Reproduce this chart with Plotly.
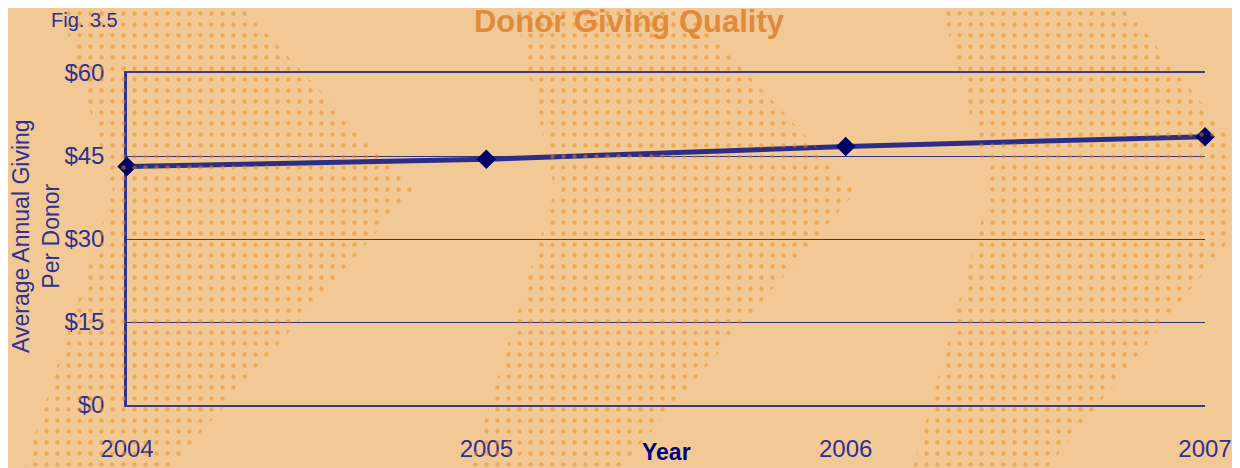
import plotly.graph_objects as go

# ---------------------------------------------------------------
# data
# ---------------------------------------------------------------
years = [2004, 2005, 2006, 2007]
avg_giving = [43.1, 44.4, 46.7, 48.5]

y_ticks = [0, 15, 30, 45, 60]
y_tick_labels = ["$0", "$15", "$30", "$45", "$60"]
x_tick_labels = ["2004", "2005", "2006", "2007"]

# ---------------------------------------------------------------
# style
# ---------------------------------------------------------------
# the page body has an 8px margin, so the figure is drawn 8px smaller
# and every pixel position below is shifted by OFF
OFF = 8
W, H = 1240 - OFF, 468 - OFF
BG = "#F2C994"
DOT = "#E8891A"
NAVY = "#2E3192"
LINE = "#2B2D86"
MARK = "#000066"
TITLE_C = "#E08B3C"
FONT = "Liberation Sans, Arial, sans-serif"


def px(x):
    return (x - OFF) / W


def py(y):
    return 1 - (y - OFF) / H


# plot area in reference pixels (left, right, top, bottom)
PL, PR, PT, PB = 127, 1205, 73, 405

# decorative dotted chevron bands (reference pixels)
bands = [
    ([58, 113, 25], [235, 413, 170]),
    ([513, 555, 470], [677, 857, 620]),
    ([940, 990, 913], [1120, 1270, 1047]),
]
BAND_MID = 190

fig = go.Figure()

# --- data line ---
fig.add_trace(go.Scatter(
    x=years, y=avg_giving,
    mode="lines+markers",
    line=dict(color=LINE, width=5),
    marker=dict(symbol="diamond", size=15, color=MARK),
    cliponaxis=False,
    hoverinfo="x+y",
    xaxis="x", yaxis="y",
))

# --- dotted background bands (full page overlay) ---
for left, right in bands:
    bx = [left[0], right[0], right[1], right[2], left[2], left[1], left[0]]
    by = [0, 0, BAND_MID, 468, 468, BAND_MID, 0]
    fig.add_trace(go.Scatter(
        x=[v - OFF for v in bx], y=[v - OFF for v in by],
        mode="lines",
        fill="toself",
        line=dict(width=0, color="rgba(0,0,0,0)"),
        fillcolor="rgba(0,0,0,0)",
        fillpattern=dict(shape=".", fgcolor=DOT, size=11, solidity=0.13),
        hoverinfo="skip",
        xaxis="x2", yaxis="y2",
    ))

fig.update_layout(
    width=W, height=H,
    margin=dict(l=0, r=0, t=0, b=0, pad=0, autoexpand=False),
    paper_bgcolor=BG,
    plot_bgcolor="rgba(0,0,0,0)",
    showlegend=False,
    font=dict(family=FONT, color=NAVY),
    title=dict(
        text="Donor Giving Quality",
        x=px(629), y=py(21), xanchor="center", yanchor="middle",
        font=dict(size=31, color=TITLE_C, family=FONT, weight="bold"),
    ),
    xaxis=dict(
        domain=[px(PL), px(PR)],
        range=[2004, 2007],
        tickvals=years, ticktext=x_tick_labels,
        showgrid=False, zeroline=False,
        # bottom ($0) and top ($60) rules
        showline=True, mirror=True, linecolor="#3A3A85", linewidth=1.5,
        layer="below traces",
        ticks="", ticklabelstandoff=21, automargin=False,
        tickfont=dict(size=24, color=NAVY),
        fixedrange=True,
    ),
    yaxis=dict(
        domain=[py(PB), py(PT)],
        range=[0, 60],
        tickvals=y_ticks, ticktext=y_tick_labels,
        showgrid=True, gridcolor="#33337F", gridwidth=1,
        zeroline=False,
        showline=True, linecolor=NAVY, linewidth=2.5,
        layer="below traces",
        ticks="", ticklabelstandoff=15, automargin=False,
        tickfont=dict(size=24, color=NAVY),
        fixedrange=True,
    ),
    xaxis2=dict(domain=[0, 1], range=[0, W], visible=False, automargin=False,
                anchor="y2", fixedrange=True),
    yaxis2=dict(domain=[0, 1], range=[H, 0], visible=False, automargin=False,
                anchor="x2", fixedrange=True),
    annotations=[
        dict(text="Fig. 3.5", x=px(84), y=py(20), xref="paper", yref="paper",
             xanchor="center", yanchor="middle", showarrow=False,
             font=dict(size=20, color=NAVY)),
        dict(text="Average Annual Giving<br>Per Donor", textangle=-90,
             x=px(36), y=py(236), xref="paper", yref="paper",
             xanchor="center", yanchor="middle", showarrow=False,
             font=dict(size=23, color=NAVY)),
        dict(text="<b>Year</b>", x=px(666), y=py(452), xref="paper", yref="paper",
             xanchor="center", yanchor="middle", showarrow=False,
             font=dict(size=23, color="#000080")),
    ],
)

fig.write_html("out.html")
